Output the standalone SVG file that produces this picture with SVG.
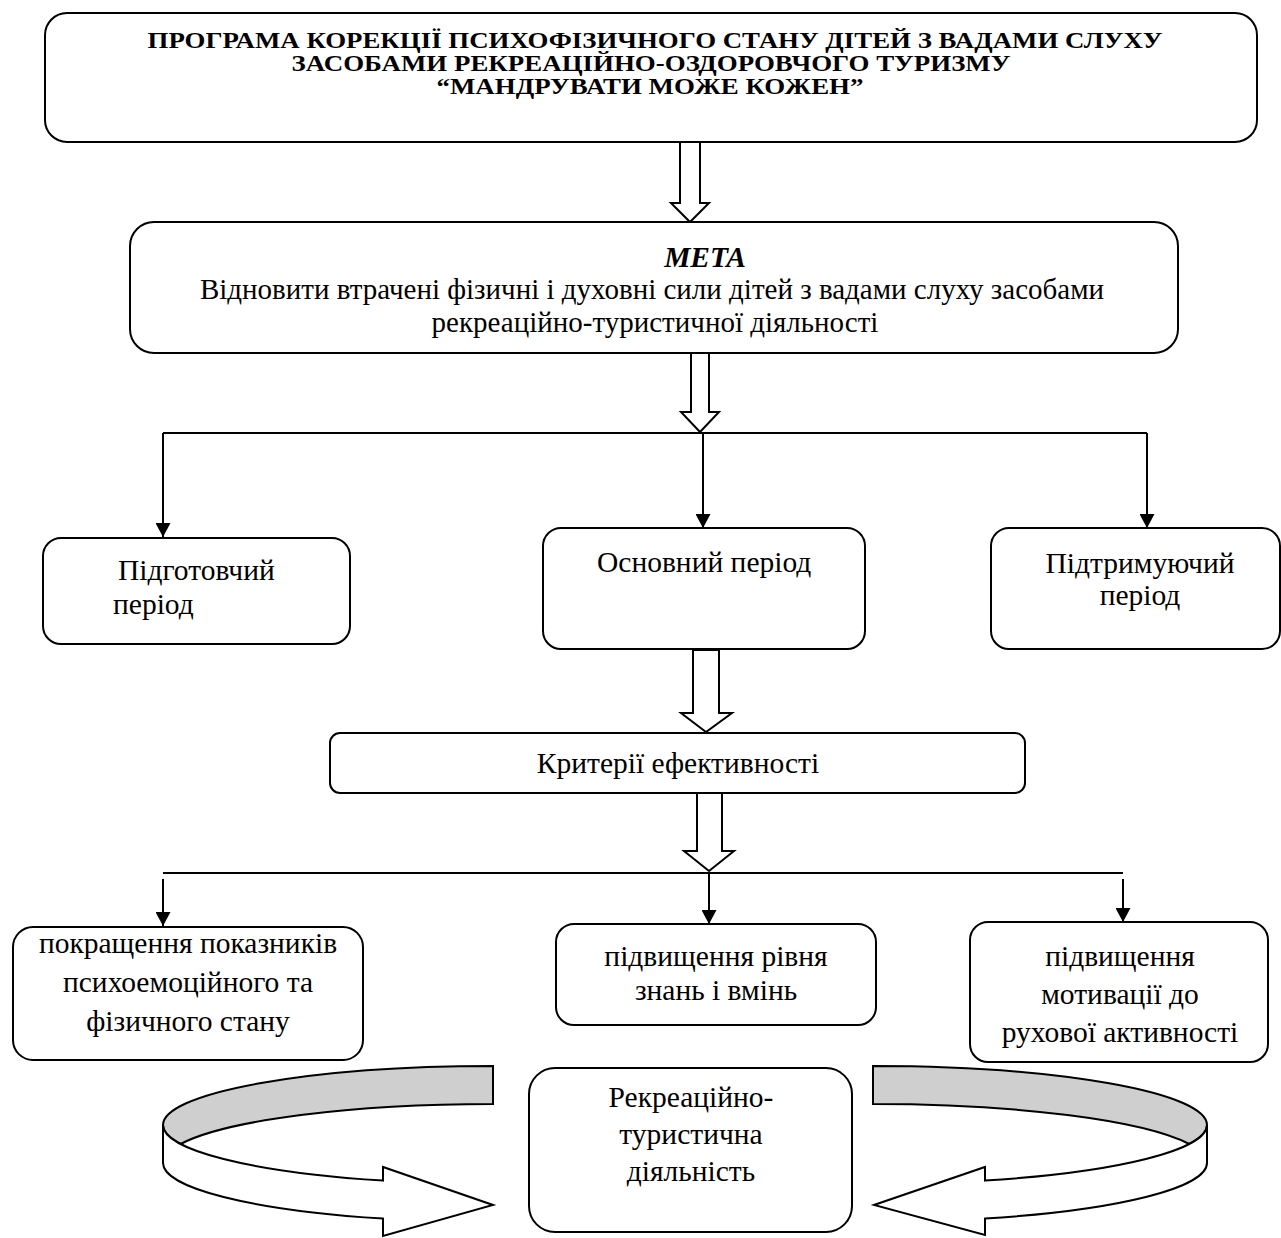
<svg xmlns="http://www.w3.org/2000/svg" width="1281" height="1238" viewBox="0 0 1281 1238">
<defs>
<style>
.box{fill:#fff;stroke:#000;stroke-width:2}
.t{font-family:"Liberation Serif","Times New Roman",serif;font-size:29.5px;fill:#000}
.c{text-anchor:middle}
.title{font-family:"Liberation Serif","Times New Roman",serif;font-size:23px;font-weight:bold;text-anchor:middle;fill:#000}
.ln{fill:none;stroke:#000;stroke-width:2}
.hollow{fill:#fff;stroke:#000;stroke-width:2;stroke-linejoin:miter}
.band{stroke:#000;stroke-width:2;stroke-linejoin:miter}
</style>
<marker id="ah" markerWidth="14" markerHeight="15" viewBox="0 0 14 15" refX="14" refY="7.5" orient="auto" markerUnits="userSpaceOnUse">
<path d="M0,0 L14,7.5 L0,15 Z" fill="#000"/>
</marker>
</defs>
<rect width="1281" height="1238" fill="#fff"/>

<g id="connectors">
<path class="hollow" d="M680,142 L700,142 L700,203 L709,203 L690,222 L671,203 L680,203 Z"/>
<path class="hollow" d="M691,353 L709,353 L709,412 L719,412 L700,432 L681,412 L691,412 Z"/>
<path class="hollow" d="M693,650 L719,650 L719,713 L732,713 L706,732 L681,713 L693,713 Z"/>
<path class="hollow" d="M697,793 L722,793 L722,851 L734,851 L709,871 L684,851 L697,851 Z"/>
<path class="ln" d="M163,433 L1147,433"/>
<path class="ln" d="M163,433 L163,537" marker-end="url(#ah)"/>
<path class="ln" d="M703,433 L703,528" marker-end="url(#ah)"/>
<path class="ln" d="M1147,433 L1147,528" marker-end="url(#ah)"/>
<path class="ln" d="M163,873 L1123,873"/>
<path class="ln" d="M163,879 L163,926" marker-end="url(#ah)"/>
<path class="ln" d="M709,873 L709,924" marker-end="url(#ah)"/>
<path class="ln" d="M1123,879 L1123,922" marker-end="url(#ah)"/>
</g>

<g id="node-title">
<rect class="box" x="45" y="13" width="1212" height="129" rx="22"/>
<text class="title" x="655" y="48" textLength="1015" lengthAdjust="spacingAndGlyphs">ПРОГРАМА КОРЕКЦІЇ ПСИХОФІЗИЧНОГО СТАНУ ДІТЕЙ З ВАДАМИ СЛУХУ</text>
<text class="title" x="651" y="71" textLength="719" lengthAdjust="spacingAndGlyphs">ЗАСОБАМИ РЕКРЕАЦІЙНО-ОЗДОРОВЧОГО ТУРИЗМУ</text>
<text class="title" x="650" y="94" textLength="427" lengthAdjust="spacingAndGlyphs">“МАНДРУВАТИ МОЖЕ КОЖЕН”</text>
</g>

<g id="node-meta">
<rect class="box" x="130" y="222" width="1048" height="131" rx="24"/>
<text class="t c" x="705" y="267" font-weight="bold" font-style="italic">МЕТА</text>
<text class="t c" x="652" y="299" style="font-size:29px">Відновити втрачені фізичні і духовні сили дітей з вадами слуху засобами</text>
<text class="t c" x="655" y="332" style="font-size:29px">рекреаційно-туристичної діяльності</text>
</g>

<g id="node-pidgotovchyi">
<rect class="box" x="43" y="538" width="307" height="106" rx="18"/>
<text class="t" x="118" y="580">Підготовчий</text>
<text class="t" x="113" y="614">період</text>
</g>

<g id="node-osnovnyi">
<rect class="box" x="543" y="528" width="322" height="121" rx="18"/>
<text class="t" x="597" y="572">Основний період</text>
</g>

<g id="node-pidtrymuiuchyi">
<rect class="box" x="991" y="528" width="289" height="121" rx="18"/>
<text class="t c" x="1140" y="573">Підтримуючий</text>
<text class="t c" x="1140" y="605">період</text>
</g>

<g id="node-kryterii">
<rect class="box" x="330" y="733" width="695" height="60" rx="10"/>
<text class="t c" x="678" y="773">Критерії ефективності</text>
</g>

<g id="node-pokrashchennia">
<rect class="box" x="13" y="927" width="350" height="133" rx="20"/>
<text class="t c" x="188" y="953">покращення показників</text>
<text class="t c" x="188" y="992">психоемоційного та</text>
<text class="t c" x="188" y="1031">фізичного стану</text>
</g>

<g id="node-znannia">
<rect class="box" x="556" y="924" width="320" height="101" rx="18"/>
<text class="t c" x="716" y="966">підвищення рівня</text>
<text class="t c" x="716" y="1000">знань і вмінь</text>
</g>

<g id="node-motyvatsiia">
<rect class="box" x="970" y="922" width="298" height="140" rx="18"/>
<text class="t c" x="1120" y="966">підвищення</text>
<text class="t c" x="1120" y="1004">мотивації до</text>
<text class="t c" x="1120" y="1042">рухової активності</text>
</g>

<g id="cycle-left">
<path class="band" fill="#cfcfcf" d="M493,1066 A330,59 0 0 0 163,1125 A330,59 0 0 0 180.6,1144 A330,59 0 0 1 493,1104 Z"/>
<path class="band" fill="#fff" d="M163,1125 A330,59 0 0 0 383,1180.6 L383,1167 L493,1205 L383,1236 L383,1218.6 A330,59 0 0 1 163,1163 Z"/>
</g>

<g id="cycle-right">
<path class="band" fill="#cfcfcf" d="M873,1066 A334,59 0 0 1 1207,1125 A334,59 0 0 1 1189.2,1144 A334,59 0 0 0 873,1104 Z"/>
<path class="band" fill="#fff" d="M1207,1125 A334,59 0 0 1 985,1180.6 L985,1167 L874,1205 L985,1235 L985,1218.6 A334,59 0 0 0 1207,1163 Z"/>
</g>

<g id="node-rekreatsiina">
<rect class="box" x="529" y="1068" width="323" height="164" rx="26"/>
<text class="t c" x="691" y="1107">Рекреаційно-</text>
<text class="t c" x="691" y="1144">туристична</text>
<text class="t c" x="691" y="1181">діяльність</text>
</g>
</svg>
